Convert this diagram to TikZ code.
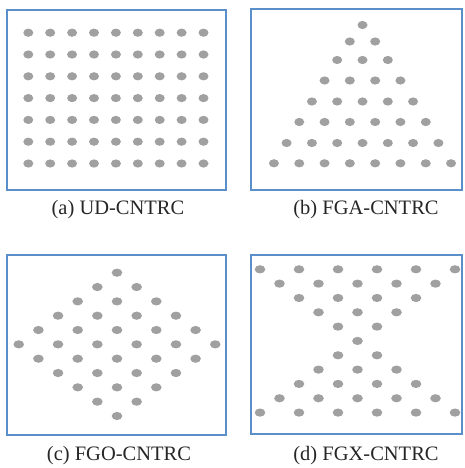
\documentclass[tikz,border=0pt]{standalone}
\usepackage{fontspec}
\setmainfont{Liberation Serif}
\definecolor{framebl}{HTML}{5B8FC9}
\definecolor{dotgray}{HTML}{A0A0A0}
\begin{document}
\begin{tikzpicture}[x=1pt,y=-1pt,
  panel/.style={draw=framebl,line width=1.4pt},
  captext/.style={font=\fontsize{20.5}{24}\selectfont,inner sep=0pt,text=black!85},
  dotfill/.style={fill=dotgray}]
\useasboundingbox (0,0) rectangle (464,468);
% frames
\draw[panel] (7,10) rectangle (226,190);
\draw[panel] (251,9) rectangle (462,190);
\draw[panel] (7,255) rectangle (226,435);
\draw[panel] (251,255) rectangle (462,434);
% (a) uniform grid
\foreach \i in {0,...,8}{
  \foreach \j in {0,...,6}{
    \fill[dotfill] ({28.3+21.9*\i},{32.7+21.8*\j}) ellipse [x radius=5, y radius=4.1];
  }
}
% (b) triangle
\foreach \k/\y in {1/25,2/41.5,3/60,4/80.5,5/101.5,6/122,7/143,8/163.3}{
  \pgfmathtruncatemacro{\last}{\k-1}
  \foreach \m in {0,...,\last}{
    \fill[dotfill] ({362.5+(\m-(\k-1)/2)*25.3},\y) ellipse [x radius=5, y radius=4.1];
  }
}
% (c) diamond
\foreach \r in {0,...,10}{
  \pgfmathtruncatemacro{\n}{6-abs(\r-5)}
  \pgfmathtruncatemacro{\last}{\n-1}
  \foreach \m in {0,...,\last}{
    \fill[dotfill] ({117+(\m-(\n-1)/2)*39.3},{272.7+14.33*\r}) ellipse [x radius=5.3, y radius=4.1];
  }
}
% (d) X shape
\foreach \r in {0,...,10}{
  \pgfmathtruncatemacro{\n}{1+abs(\r-5)}
  \pgfmathtruncatemacro{\last}{\n-1}
  \foreach \m in {0,...,\last}{
    \fill[dotfill] ({357.5+(\m-(\n-1)/2)*39},{269.3+14.33*\r}) ellipse [x radius=5.3, y radius=4.1];
  }
}
% captions
\node[captext] (capa) at (118,210) {(a) UD-CNTRC};
\node[captext] (capb) at (366,210) {(b) FGA-CNTRC};
\node[captext] (capc) at (119,456) {(c) FGO-CNTRC};
\node[captext] (capd) at (366,456) {(d) FGX-CNTRC};
\end{tikzpicture}
\end{document}
